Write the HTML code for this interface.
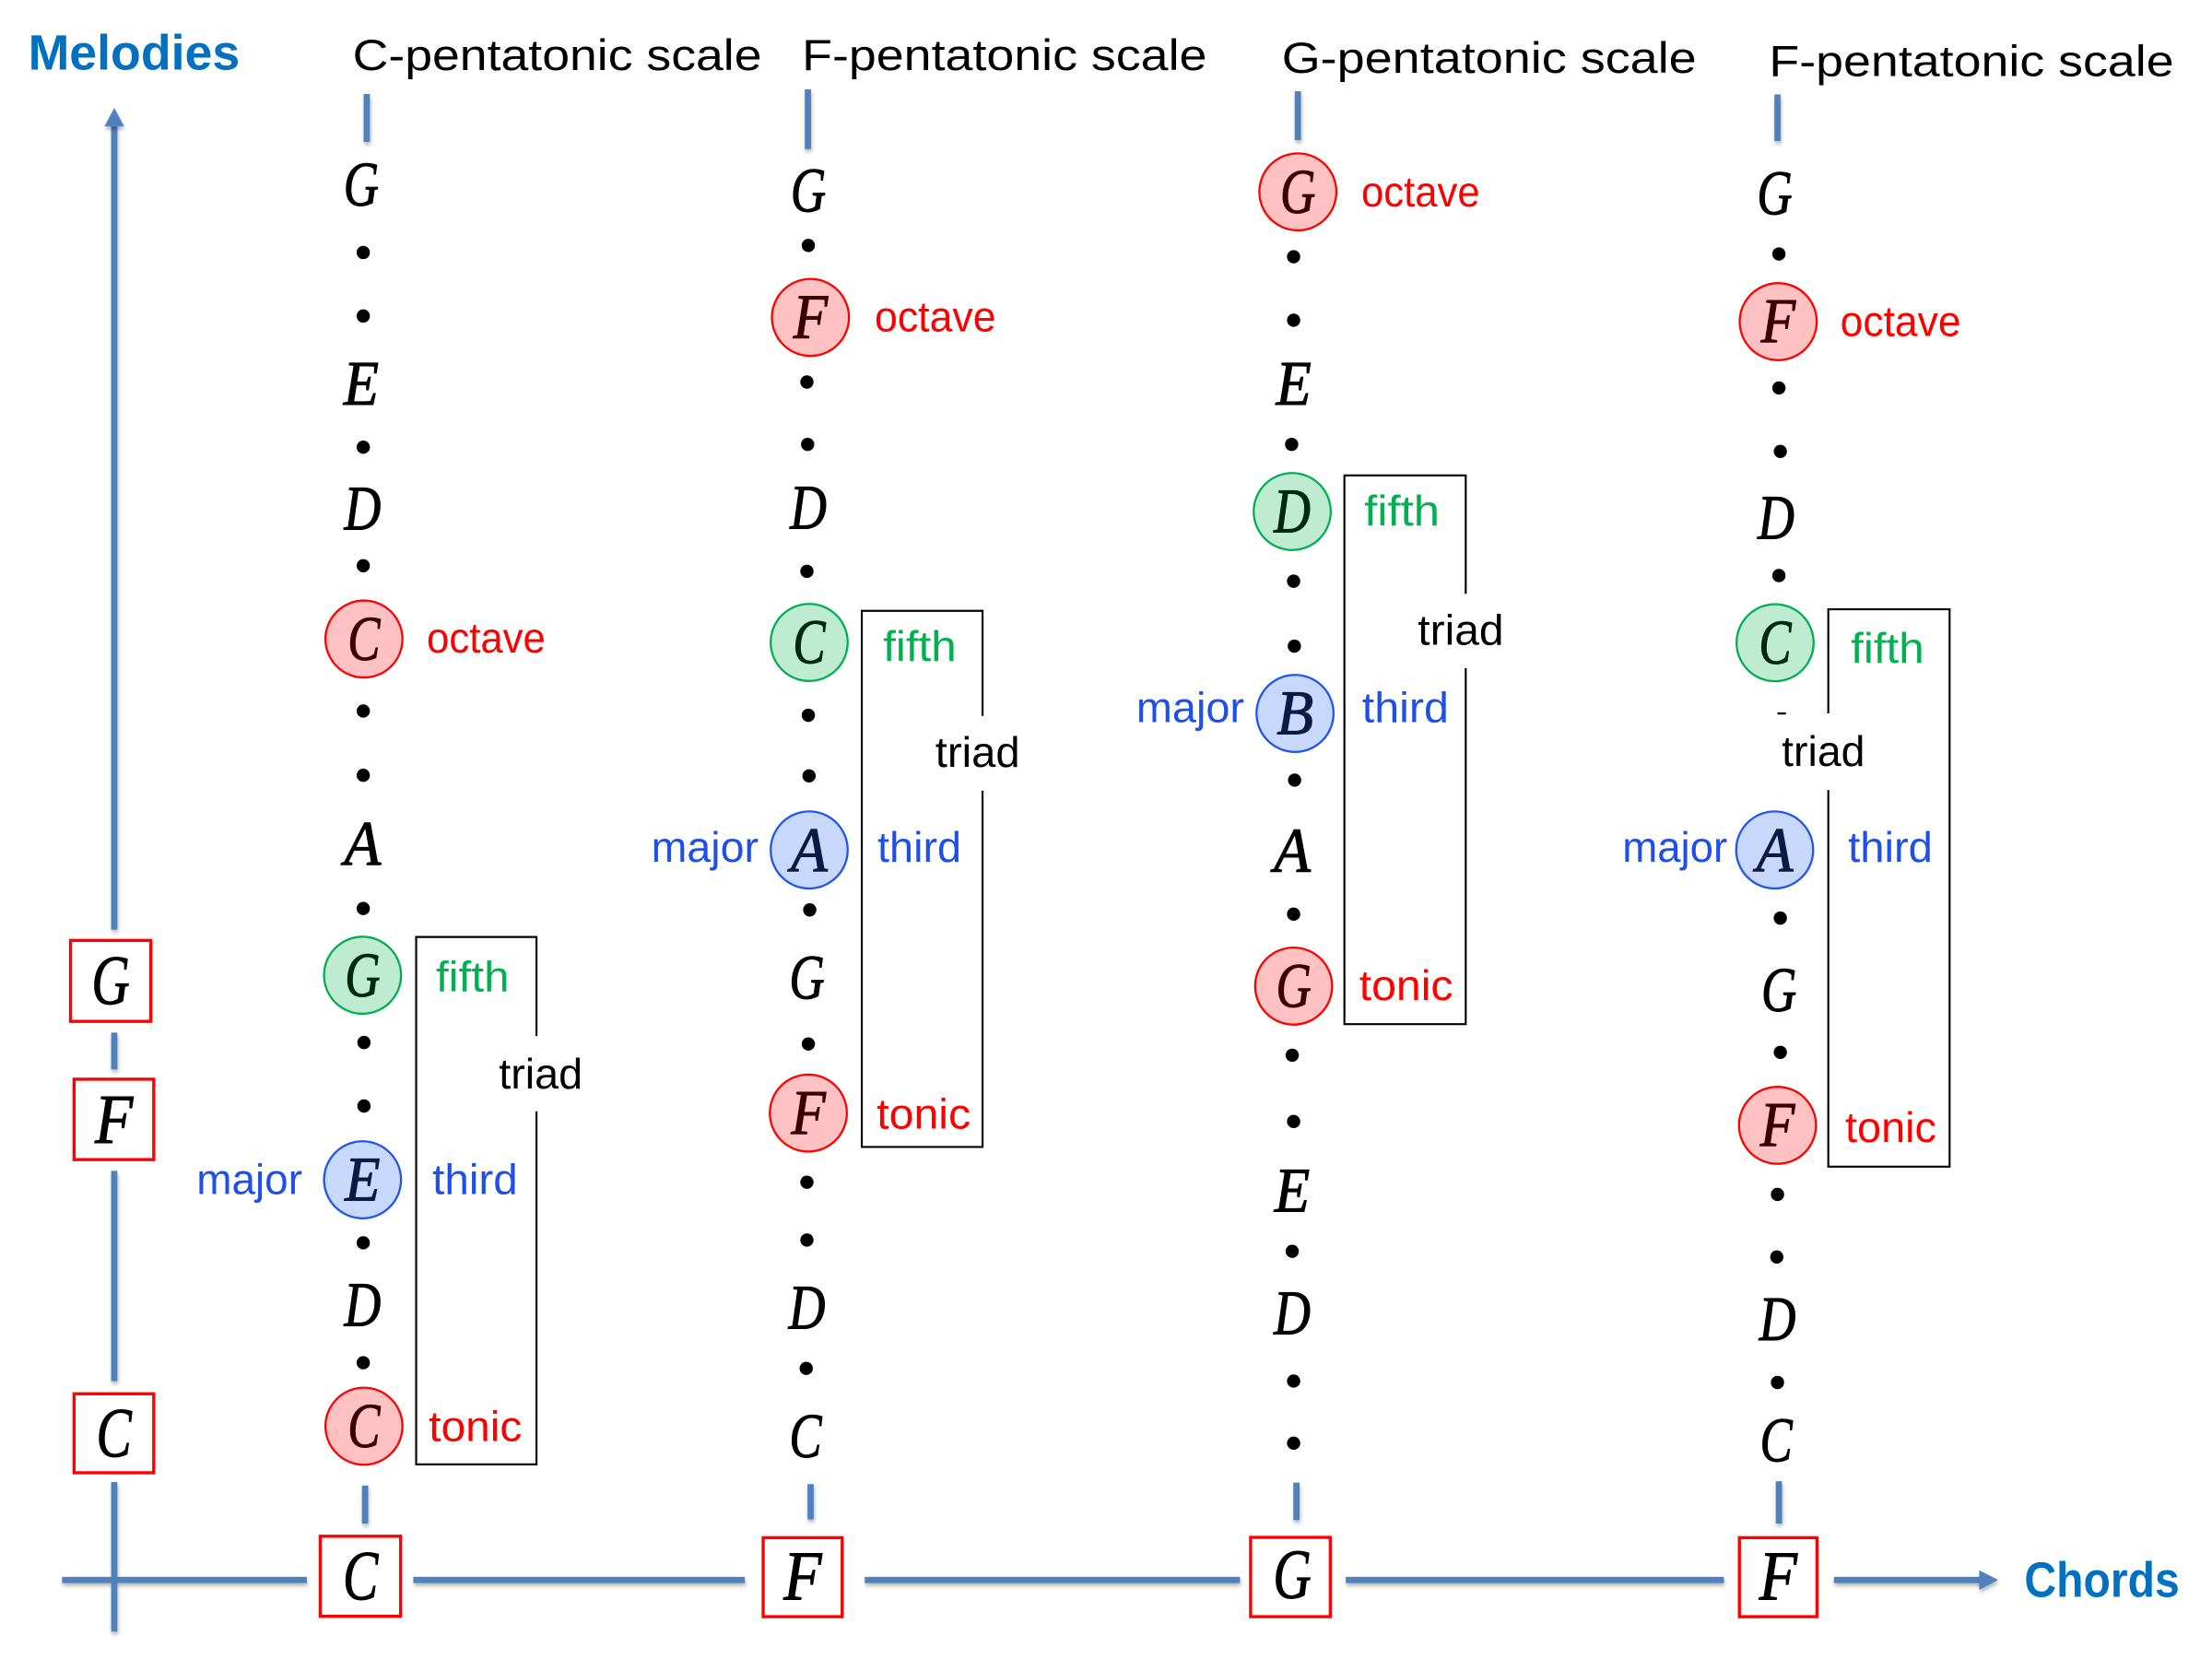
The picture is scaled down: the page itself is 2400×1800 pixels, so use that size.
<!DOCTYPE html>
<html>
<head>
<meta charset="utf-8">
<style>
  html,body{margin:0;padding:0;background:#fff;}
  svg{display:block;}
  .m{font-family:"Liberation Serif",serif;font-style:italic;font-size:45px;stroke-width:0.7px;}
  .mb{font-family:"Liberation Serif",serif;font-style:italic;font-size:50px;stroke:#000;stroke-width:0.7px;}
  .l{font-family:"Liberation Sans",sans-serif;font-size:30px;}
  .h{font-family:"Liberation Sans",sans-serif;font-size:31px;fill:#000;}
  .t{font-family:"Liberation Sans",sans-serif;font-size:35px;font-weight:bold;fill:#0070C0;}
  .red{fill:#FF0000;} .grn{fill:#00B050;} .blu{fill:#1F4FEA;} .blk{fill:#000;}
</style>
</head>
<body>
<svg width="2400" height="1800" viewBox="0 0 1568 1176" preserveAspectRatio="none" xmlns="http://www.w3.org/2000/svg">
  <defs>
    <filter id="sh" x="-20%" y="-20%" width="140%" height="160%">
      <feDropShadow dx="0.5" dy="2" stdDeviation="1.4" flood-color="#000" flood-opacity="0.3"/>
    </filter>
  </defs>
  <rect width="1568" height="1176" fill="#fff"/>

  <!-- Titles -->
  <text class="t" x="20" y="49.3" textLength="150" lengthAdjust="spacingAndGlyphs">Melodies</text>
  <text class="t" x="1435" y="1132" textLength="110" lengthAdjust="spacingAndGlyphs">Chords</text>

  <text class="h" x="250" y="49.5" textLength="290" lengthAdjust="spacingAndGlyphs">C-pentatonic scale</text>
  <text class="h" x="568.5" y="49.5" textLength="287" lengthAdjust="spacingAndGlyphs">F-pentatonic scale</text>
  <text class="h" x="908.6" y="51.7" textLength="294" lengthAdjust="spacingAndGlyphs">G-pentatonic scale</text>
  <text class="h" x="1254" y="54" textLength="287" lengthAdjust="spacingAndGlyphs">F-pentatonic scale</text>

  <!-- Axes -->
  <g stroke="#4F81BD" stroke-width="4.4" fill="none" filter="url(#sh)">
    <line x1="81" y1="88" x2="81" y2="659"/>
    <line x1="81" y1="732" x2="81" y2="758"/>
    <line x1="81" y1="830" x2="81" y2="979"/>
    <line x1="81" y1="1050.6" x2="81" y2="1156.6"/>

    <line x1="44" y1="1120" x2="217.5" y2="1120"/>
    <line x1="293" y1="1120" x2="528" y2="1120"/>
    <line x1="613" y1="1120" x2="879" y2="1120"/>
    <line x1="954" y1="1120" x2="1222" y2="1120"/>
    <line x1="1300" y1="1120" x2="1405" y2="1120"/>

    <line x1="260" y1="66.6" x2="260" y2="100.6"/>
    <line x1="258.8" y1="1053" x2="258.8" y2="1080"/>
    <line x1="572.7" y1="63.3" x2="572.7" y2="105.7"/>
    <line x1="574.6" y1="1052" x2="574.6" y2="1077"/>
    <line x1="920" y1="64.7" x2="920" y2="99.3"/>
    <line x1="919" y1="1051" x2="919" y2="1077.5"/>
    <line x1="1260" y1="67" x2="1260" y2="100"/>
    <line x1="1261" y1="1050" x2="1261" y2="1080"/>
  </g>
  <g fill="#4F81BD" filter="url(#sh)">
    <polygon points="81,76.4 74.1,89.6 87.9,89.6"/>
    <polygon points="1416.5,1120 1403,1113.1 1403,1126.9"/>
  </g>

  <!-- Red chord boxes -->
  <g fill="#fff" stroke="#FF0000" stroke-width="2.2">
    <rect x="50" y="666.6" width="56.9" height="57.4"/>
    <rect x="52.5" y="765" width="56.5" height="57"/>
    <rect x="52.5" y="988" width="56.5" height="56"/>
    <rect x="227" y="1089" width="57" height="56.7"/>
    <rect x="541" y="1090" width="56" height="56"/>
    <rect x="886.5" y="1089.8" width="56.5" height="56.2"/>
    <rect x="1233" y="1090" width="55" height="56"/>
  </g>
  <g class="blk">
    <text class="mb" x="64.9" y="711.8" textLength="27" lengthAdjust="spacingAndGlyphs">G</text>
    <text class="mb" x="67.3" y="810" textLength="27" lengthAdjust="spacingAndGlyphs">F</text>
    <text class="mb" x="68.3" y="1032.5" textLength="25" lengthAdjust="spacingAndGlyphs">C</text>
    <text class="mb" x="243" y="1134" textLength="25" lengthAdjust="spacingAndGlyphs">C</text>
    <text class="mb" x="555.5" y="1134" textLength="27" lengthAdjust="spacingAndGlyphs">F</text>
    <text class="mb" x="902.5" y="1133" textLength="27" lengthAdjust="spacingAndGlyphs">G</text>
    <text class="mb" x="1247" y="1134" textLength="27" lengthAdjust="spacingAndGlyphs">F</text>
  </g>

  <!-- Triad boxes -->
  <g fill="none" stroke="#000" stroke-width="1.4">
    <path d="M380.3,734.4 V664.2 H295 V1038 H380.3 V787.8"/>
    <path d="M696.5,507.5 V433 H610.9 V813 H696.5 V560.5"/>
    <path d="M1039,421 V337 H953 V726 H1039 V473.7"/>
    <path d="M1296,505.7 V431.9 H1382 V827 H1296 V560"/>
  </g>

  <!-- Dots -->
  <g fill="#000">
    <circle cx="257.5" cy="179" r="4.7"/><circle cx="257.5" cy="224" r="4.7"/>
    <circle cx="257.5" cy="317" r="4.7"/><circle cx="257.5" cy="401" r="4.7"/>
    <circle cx="257.5" cy="504" r="4.7"/><circle cx="257.5" cy="549.6" r="4.7"/>
    <circle cx="257.5" cy="644" r="4.7"/><circle cx="258" cy="739" r="4.7"/>
    <circle cx="258" cy="784" r="4.7"/><circle cx="257.5" cy="881" r="4.7"/>
    <circle cx="257.5" cy="966" r="4.7"/>

    <circle cx="573" cy="174" r="4.7"/><circle cx="572" cy="270.8" r="4.7"/>
    <circle cx="572.5" cy="315" r="4.7"/><circle cx="572" cy="405" r="4.7"/>
    <circle cx="573" cy="507" r="4.7"/><circle cx="573.5" cy="550" r="4.7"/>
    <circle cx="574" cy="645" r="4.7"/><circle cx="573" cy="740" r="4.7"/>
    <circle cx="572" cy="838" r="4.7"/><circle cx="572" cy="879" r="4.7"/>
    <circle cx="571.5" cy="970" r="4.7"/>

    <circle cx="917" cy="182" r="4.7"/><circle cx="917" cy="227" r="4.7"/>
    <circle cx="915.6" cy="315" r="4.7"/><circle cx="917" cy="412" r="4.7"/>
    <circle cx="917.5" cy="458" r="4.7"/><circle cx="917.7" cy="553" r="4.7"/>
    <circle cx="917" cy="648" r="4.7"/><circle cx="916" cy="748" r="4.7"/>
    <circle cx="917" cy="795" r="4.7"/><circle cx="916" cy="887" r="4.7"/>
    <circle cx="917" cy="979" r="4.7"/><circle cx="917" cy="1023" r="4.7"/>

    <circle cx="1261" cy="180" r="4.7"/><circle cx="1261" cy="275" r="4.7"/>
    <circle cx="1262" cy="320" r="4.7"/><circle cx="1261" cy="408" r="4.7"/>
    <circle cx="1262" cy="650.8" r="4.7"/><circle cx="1262" cy="746" r="4.7"/>
    <circle cx="1260" cy="846.7" r="4.7"/><circle cx="1259.5" cy="891" r="4.7"/>
    <circle cx="1260" cy="980" r="4.7"/>
    <rect x="1260" y="505" width="6" height="1.5"/>
  </g>

  <!-- Circles -->
  <g stroke-width="1.5">
    <circle cx="258" cy="453" r="27.3" fill="#FFC1C1" stroke="#FF0000"/>
    <circle cx="257" cy="691.3" r="27.3" fill="#C0EBD3" stroke="#00B050"/>
    <circle cx="257" cy="836.3" r="27.3" fill="#C7D8FA" stroke="#1F55F0"/>
    <circle cx="258" cy="1011" r="27.3" fill="#FFC1C1" stroke="#FF0000"/>

    <circle cx="574.5" cy="225" r="27.3" fill="#FFC1C1" stroke="#FF0000"/>
    <circle cx="573.6" cy="455.4" r="27.3" fill="#C0EBD3" stroke="#00B050"/>
    <circle cx="573.6" cy="602.5" r="27.3" fill="#C7D8FA" stroke="#1F55F0"/>
    <circle cx="573" cy="789" r="27.3" fill="#FFC1C1" stroke="#FF0000"/>

    <circle cx="920" cy="136" r="27.3" fill="#FFC1C1" stroke="#FF0000"/>
    <circle cx="916" cy="362.6" r="27.3" fill="#C0EBD3" stroke="#00B050"/>
    <circle cx="918" cy="505.7" r="27.3" fill="#C7D8FA" stroke="#1F55F0"/>
    <circle cx="917" cy="699" r="27.3" fill="#FFC1C1" stroke="#FF0000"/>

    <circle cx="1260.5" cy="228" r="27.3" fill="#FFC1C1" stroke="#FF0000"/>
    <circle cx="1258.3" cy="455.6" r="27.3" fill="#C0EBD3" stroke="#00B050"/>
    <circle cx="1258" cy="602.5" r="27.3" fill="#C7D8FA" stroke="#1F55F0"/>
    <circle cx="1260" cy="797.7" r="27.3" fill="#FFC1C1" stroke="#FF0000"/>
  </g>

  <!-- Plain note letters -->
  <g fill="#000" stroke="#000">
    <text class="m" x="243.5" y="145.8" textLength="25" lengthAdjust="spacingAndGlyphs">G</text>
    <text class="m" x="243.5" y="286.8" textLength="25" lengthAdjust="spacingAndGlyphs">E</text>
    <text class="m" x="244" y="375.3" textLength="26" lengthAdjust="spacingAndGlyphs">D</text>
    <text class="m" x="244" y="612.8" textLength="26" lengthAdjust="spacingAndGlyphs">A</text>
    <text class="m" x="244" y="939.8" textLength="26" lengthAdjust="spacingAndGlyphs">D</text>

    <text class="m" x="560.5" y="149.8" textLength="25" lengthAdjust="spacingAndGlyphs">G</text>
    <text class="m" x="560" y="374.8" textLength="26" lengthAdjust="spacingAndGlyphs">D</text>
    <text class="m" x="559.5" y="707.8" textLength="25" lengthAdjust="spacingAndGlyphs">G</text>
    <text class="m" x="559" y="941.8" textLength="26" lengthAdjust="spacingAndGlyphs">D</text>
    <text class="m" x="559.5" y="1032.8" textLength="23" lengthAdjust="spacingAndGlyphs">C</text>

    <text class="m" x="904.5" y="286.8" textLength="25" lengthAdjust="spacingAndGlyphs">E</text>
    <text class="m" x="903" y="617.8" textLength="26" lengthAdjust="spacingAndGlyphs">A</text>
    <text class="m" x="903.5" y="858.8" textLength="25" lengthAdjust="spacingAndGlyphs">E</text>
    <text class="m" x="903" y="945.8" textLength="26" lengthAdjust="spacingAndGlyphs">D</text>

    <text class="m" x="1245.5" y="151.8" textLength="25" lengthAdjust="spacingAndGlyphs">G</text>
    <text class="m" x="1246" y="381.8" textLength="26" lengthAdjust="spacingAndGlyphs">D</text>
    <text class="m" x="1248.5" y="716.8" textLength="25" lengthAdjust="spacingAndGlyphs">G</text>
    <text class="m" x="1247" y="949.8" textLength="26" lengthAdjust="spacingAndGlyphs">D</text>
    <text class="m" x="1247.5" y="1035.8" textLength="23" lengthAdjust="spacingAndGlyphs">C</text>
  </g>

  <!-- Circled letters -->
  <g>
    <text class="m" fill="#3A0000" stroke="#3A0000" x="246.5" y="467.8" textLength="23" lengthAdjust="spacingAndGlyphs">C</text>
    <text class="m" fill="#00280F" stroke="#00280F" x="244.5" y="706.1" textLength="25" lengthAdjust="spacingAndGlyphs">G</text>
    <text class="m" fill="#0B1A42" stroke="#0B1A42" x="244.5" y="851.1" textLength="25" lengthAdjust="spacingAndGlyphs">E</text>
    <text class="m" fill="#3A0000" stroke="#3A0000" x="246.5" y="1025.8" textLength="23" lengthAdjust="spacingAndGlyphs">C</text>

    <text class="m" fill="#3A0000" stroke="#3A0000" x="562.3" y="239.8" textLength="24.5" lengthAdjust="spacingAndGlyphs">F</text>
    <text class="m" fill="#00280F" stroke="#00280F" x="562.1" y="470.2" textLength="23" lengthAdjust="spacingAndGlyphs">C</text>
    <text class="m" fill="#0B1A42" stroke="#0B1A42" x="560.6" y="617.3" textLength="26" lengthAdjust="spacingAndGlyphs">A</text>
    <text class="m" fill="#3A0000" stroke="#3A0000" x="560.8" y="803.8" textLength="24.5" lengthAdjust="spacingAndGlyphs">F</text>

    <text class="m" fill="#3A0000" stroke="#3A0000" x="907.5" y="150.8" textLength="25" lengthAdjust="spacingAndGlyphs">G</text>
    <text class="m" fill="#00280F" stroke="#00280F" x="903" y="377.4" textLength="26" lengthAdjust="spacingAndGlyphs">D</text>
    <text class="m" fill="#0B1A42" stroke="#0B1A42" x="905" y="520.5" textLength="26" lengthAdjust="spacingAndGlyphs">B</text>
    <text class="m" fill="#3A0000" stroke="#3A0000" x="904.5" y="713.8" textLength="25" lengthAdjust="spacingAndGlyphs">G</text>

    <text class="m" fill="#3A0000" stroke="#3A0000" x="1248.3" y="242.8" textLength="24.5" lengthAdjust="spacingAndGlyphs">F</text>
    <text class="m" fill="#00280F" stroke="#00280F" x="1246.8" y="470.4" textLength="23" lengthAdjust="spacingAndGlyphs">C</text>
    <text class="m" fill="#0B1A42" stroke="#0B1A42" x="1245" y="617.3" textLength="26" lengthAdjust="spacingAndGlyphs">A</text>
    <text class="m" fill="#3A0000" stroke="#3A0000" x="1247.8" y="812.5" textLength="24.5" lengthAdjust="spacingAndGlyphs">F</text>
  </g>

  <!-- Labels column 1 -->
  <text class="l red" x="302.5" y="462.7" textLength="84.2" lengthAdjust="spacingAndGlyphs">octave</text>
  <text class="l grn" x="309" y="702.8" textLength="52" lengthAdjust="spacingAndGlyphs">fifth</text>
  <text class="l blu" x="139.3" y="846.5" textLength="75" lengthAdjust="spacingAndGlyphs">major</text>
  <text class="l blu" x="306.5" y="846.5" textLength="60.5" lengthAdjust="spacingAndGlyphs">third</text>
  <text class="l red" x="304" y="1021.5" textLength="66" lengthAdjust="spacingAndGlyphs">tonic</text>
  <text class="l blk" x="353.6" y="771.6" textLength="59.4" lengthAdjust="spacingAndGlyphs">triad</text>

  <!-- Labels column 2 -->
  <text class="l red" x="620" y="235" textLength="86" lengthAdjust="spacingAndGlyphs">octave</text>
  <text class="l grn" x="626" y="468.4" textLength="52" lengthAdjust="spacingAndGlyphs">fifth</text>
  <text class="l blu" x="461.7" y="611" textLength="76" lengthAdjust="spacingAndGlyphs">major</text>
  <text class="l blu" x="622" y="611" textLength="59.5" lengthAdjust="spacingAndGlyphs">third</text>
  <text class="l red" x="621.5" y="800" textLength="66.5" lengthAdjust="spacingAndGlyphs">tonic</text>
  <text class="l blk" x="663" y="543.5" textLength="60" lengthAdjust="spacingAndGlyphs">triad</text>

  <!-- Labels column 3 -->
  <text class="l red" x="965" y="146.4" textLength="84" lengthAdjust="spacingAndGlyphs">octave</text>
  <text class="l grn" x="967" y="372.4" textLength="53.5" lengthAdjust="spacingAndGlyphs">fifth</text>
  <text class="l blu" x="805.5" y="512" textLength="76.5" lengthAdjust="spacingAndGlyphs">major</text>
  <text class="l blu" x="965.5" y="512" textLength="61.5" lengthAdjust="spacingAndGlyphs">third</text>
  <text class="l red" x="963.5" y="709" textLength="66.5" lengthAdjust="spacingAndGlyphs">tonic</text>
  <text class="l blk" x="1005" y="457" textLength="61" lengthAdjust="spacingAndGlyphs">triad</text>

  <!-- Labels column 4 -->
  <text class="l red" x="1304.5" y="238" textLength="85.5" lengthAdjust="spacingAndGlyphs">octave</text>
  <text class="l grn" x="1312" y="469.7" textLength="52" lengthAdjust="spacingAndGlyphs">fifth</text>
  <text class="l blu" x="1150" y="611" textLength="74.5" lengthAdjust="spacingAndGlyphs">major</text>
  <text class="l blu" x="1310" y="611" textLength="60" lengthAdjust="spacingAndGlyphs">third</text>
  <text class="l red" x="1308" y="809.5" textLength="64.6" lengthAdjust="spacingAndGlyphs">tonic</text>
  <text class="l blk" x="1263" y="543" textLength="59" lengthAdjust="spacingAndGlyphs">triad</text>
</svg>
</body>
</html>
